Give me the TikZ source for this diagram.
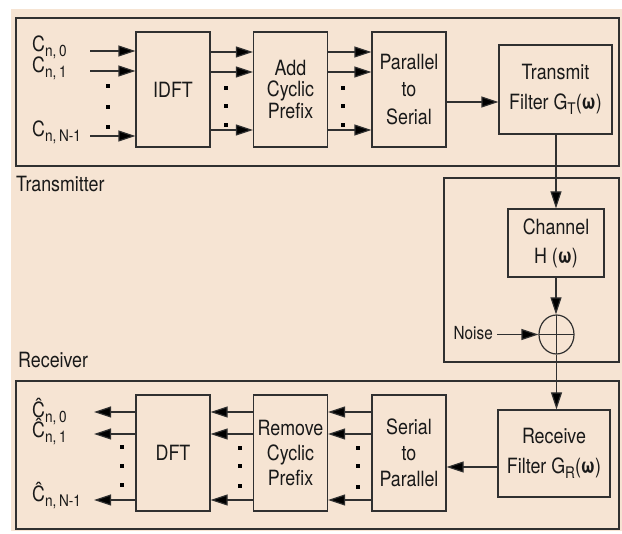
\documentclass[tikz,border=0pt]{standalone}
\usepackage{fontspec}
\setmainfont{TeX Gyre Heros}[FakeStretch=0.85]
\usetikzlibrary{arrows.meta,shapes.geometric,calc}
\definecolor{paper}{HTML}{F6E4D3}
\definecolor{ink}{HTML}{303030}
% lowered, smaller index text
\newcommand\lowidx[1]{\raisebox{-5pt}{\fontsize{16}{16}\selectfont #1}}
\begin{document}
\begin{tikzpicture}[x=1pt,y=-1pt,
  blk/.style={draw=ink, line width=1.2pt, fill=paper, inner sep=0pt, align=center,
              text=black!90, font=\fontsize{21}{27}\selectfont},
  frame/.style={draw=ink, line width=1.6pt},
  arr/.style={draw=ink, line width=1.2pt, -{Triangle[length=17pt,width=11pt,fill=black]}},
  dotmark/.style={fill=black, minimum size=4pt, inner sep=0pt, rectangle},
  lbl/.style={inner sep=0pt, text=black!90, font=\fontsize{21}{22}\selectfont},
  secname/.style={inner sep=0pt, text=black!90, font=\fontsize{21}{24}\selectfont},
  tx/.style={blk, minimum width=74pt, minimum height=115pt},
  rx/.style={blk, minimum width=74pt, minimum height=116pt}
]
\useasboundingbox (0,0) rectangle (622,534);
\fill[paper] (11,9) rectangle (622,531);

% section frames
\draw[frame] (16,18) rectangle (619,166);
\draw[frame] (444,178) rectangle (619,362);
\draw[frame] (16,381) rectangle (619,529);
\node[secname, anchor=base west] (txname) at (16,192) {Transmitter};
\node[secname, anchor=base west] (rxname) at (18,368) {Receiver};

% transmitter chain
\node[tx] (idft) at (173,89.5) {IDFT};
\node[tx, font=\fontsize{21}{21.5}\selectfont] (acp) at (290.5,89.5) {Add\\Cyclic\\Prefix};
\node[tx, font=\fontsize{21}{27.5}\selectfont] (ps) at (409,89.5) {Parallel\\to\\Serial};
\node[blk, minimum width=113pt, minimum height=89pt, font=\fontsize{21}{30}\selectfont]
  (tf) at (555.5,89.5) {Transmit\\Filter G\lowidx{T}(\textbf{ω})};

% channel
\node[blk, minimum width=96pt, minimum height=68pt, font=\fontsize{21}{29}\selectfont]
  (ch) at (556,243) {Channel\\H (\textbf{ω})};
\node[draw=ink, line width=1.2pt, fill=paper, ellipse, minimum width=35pt, minimum height=39pt,
  inner sep=0pt,
  path picture={\draw[ink, line width=1pt]
    (path picture bounding box.west) -- (path picture bounding box.east)
    (path picture bounding box.north) -- (path picture bounding box.south);}]
  (sum) at (556.5,334.5) {};
\node[lbl, font=\fontsize{18}{19}\selectfont, anchor=base east] (noise) at (493,340) {Noise};

% receiver chain
\node[blk, minimum width=112pt, minimum height=87pt, font=\fontsize{21}{30}\selectfont]
  (rf) at (554,453.5) {Receive\\Filter G\lowidx{R}(\textbf{ω})};
\node[rx, font=\fontsize{21}{26}\selectfont] (sp) at (409,453) {Serial\\to\\Parallel};
\node[rx, font=\fontsize{21}{25}\selectfont] (rcp) at (290.5,453) {Remove\\Cyclic\\Prefix};
\node[rx] (dft) at (173,453) {DFT};

% input symbols
\node[lbl, anchor=base west] (c0) at (32,52) {C\lowidx{n,\,0}};
\node[lbl, anchor=base west] (c1) at (32,73) {C\lowidx{n,\,1}};
\node[lbl, anchor=base west] (cN) at (32,137) {C\lowidx{n,\,N-1}};
\coordinate (in0) at (90,51);
\coordinate (in1) at (90,71);
\coordinate (inN) at (90,136);

% output estimates
\node[lbl, anchor=base west] (e0) at (32,418) {\^{C}\lowidx{n,\,0}};
\node[lbl, anchor=base west] (e1) at (32,438) {\^{C}\lowidx{n,\,1}};
\node[lbl, anchor=base west] (eN) at (32,502) {\^{C}\lowidx{n,\,N-1}};
\coordinate (out0) at (94,412);
\coordinate (out1) at (94,434);
\coordinate (outN) at (94,500);

% transmitter connectors
\draw[arr] (in0) -- (idft.west |- in0);
\draw[arr] (in1) -- (idft.west |- in1);
\draw[arr] (inN) -- (idft.west |- inN);
\foreach \yy in {52,72,130}{
  \draw[arr] (idft.east |- 0,\yy) -- (acp.west |- 0,\yy);
  \draw[arr] (acp.east |- 0,\yy) -- (ps.west |- 0,\yy);
}
\draw[arr] (ps.east |- 0,102) -- (tf.west |- 0,102);

% channel connectors
\draw[arr] (tf.south -| ch.north) -- (ch.north);
\draw[arr] (ch.south) -- (sum.north -| ch.south);
\draw[arr] (noise.east |- sum.west) ++(4,0) -- (sum.west);
\draw[arr] (sum.south) -- (rf.north -| sum.south);

% receiver connectors
\draw[arr] (rf.west |- 0,467) -- (sp.east |- 0,467);
\foreach \yy in {412,434,500}{
  \draw[arr] (sp.west |- 0,\yy) -- (rcp.east |- 0,\yy);
  \draw[arr] (rcp.west |- 0,\yy) -- (dft.east |- 0,\yy);
}
\draw[arr] (dft.west |- out0) -- (out0);
\draw[arr] (dft.west |- out1) -- (out1);
\draw[arr] (dft.west |- outN) -- (outN);

% ellipsis dots between parallel lines
\foreach \xx/\ya/\yb/\yc in {108/86/107/127, 226/88/106/125, 343/88/106/125,
                              122/447/466/485, 240/448/466/486, 358/448/466/487}{
  \node[dotmark] at (\xx,\ya) {};
  \node[dotmark] at (\xx,\yb) {};
  \node[dotmark] at (\xx,\yc) {};
}
\end{tikzpicture}
\end{document}
